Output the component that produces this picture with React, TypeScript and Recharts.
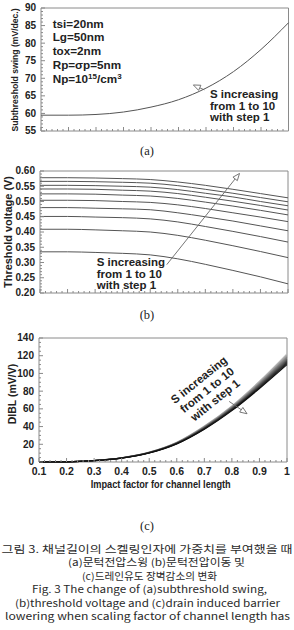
import React from 'react';
import { LineChart, Line, XAxis, YAxis, ReferenceArea, ReferenceLine } from 'recharts';

// ---- shared x grid (impact factor for channel length) ----
const impactFactor = [0.1, 0.2, 0.3, 0.4, 0.5, 0.6, 0.7, 0.8, 0.9, 1.0];
const factorTicks = [0.1, 0.2, 0.3, 0.4, 0.5, 0.6, 0.7, 0.8, 0.9, 1.0];

// ---- (a) subthreshold swing, mV/dec ----
const swingValues = [59.5, 59.5, 59.7, 60.4, 61.8, 63.9, 67.2, 71.9, 78.2, 85.8];
const swingTicks = [55, 60, 65, 70, 75, 80, 85, 90];

// ---- (b) threshold voltage, V (S = 1 ... 10) ----
const vthS1 = [0.335, 0.335, 0.333, 0.330, 0.325, 0.312, 0.294, 0.274, 0.253, 0.230];
const vthS2 = [0.409, 0.409, 0.407, 0.404, 0.400, 0.389, 0.373, 0.355, 0.336, 0.316];
const vthS3 = [0.451, 0.451, 0.449, 0.447, 0.443, 0.433, 0.418, 0.402, 0.385, 0.367];
const vthS4 = [0.480, 0.480, 0.478, 0.476, 0.473, 0.463, 0.450, 0.436, 0.420, 0.404];
const vthS5 = [0.504, 0.504, 0.503, 0.500, 0.497, 0.489, 0.477, 0.463, 0.449, 0.434];
const vthS6 = [0.525, 0.525, 0.524, 0.521, 0.518, 0.510, 0.498, 0.485, 0.471, 0.456];
const vthS7 = [0.541, 0.541, 0.540, 0.537, 0.534, 0.526, 0.514, 0.501, 0.487, 0.472];
const vthS8 = [0.553, 0.553, 0.552, 0.550, 0.547, 0.539, 0.527, 0.515, 0.500, 0.486];
const vthS9 = [0.566, 0.566, 0.565, 0.563, 0.560, 0.552, 0.540, 0.527, 0.513, 0.499];
const vthS10 = [0.578, 0.578, 0.577, 0.575, 0.572, 0.564, 0.553, 0.540, 0.526, 0.512];
const vthTicks = [0.2, 0.25, 0.3, 0.35, 0.4, 0.45, 0.5, 0.55, 0.6];

// ---- (c) DIBL, mV/V (S = 1 ... 10) ----
const diblS1 = [0, 0.2, 1.5, 4.4, 10.2, 20.5, 37.0, 58.0, 83.0, 110.0];
const diblS2 = [0, 0.2, 1.5, 4.4, 10.3, 20.7, 37.4, 58.6, 83.9, 111.3];
const diblS3 = [0, 0.2, 1.5, 4.5, 10.4, 20.9, 37.8, 59.2, 84.8, 112.6];
const diblS4 = [0, 0.2, 1.5, 4.5, 10.5, 21.1, 38.2, 59.8, 85.7, 114.0];
const diblS5 = [0, 0.2, 1.6, 4.6, 10.6, 21.3, 38.6, 60.4, 86.6, 115.3];
const diblS6 = [0, 0.2, 1.6, 4.6, 10.7, 21.5, 39.0, 61.0, 87.5, 116.6];
const diblS7 = [0, 0.2, 1.6, 4.7, 10.8, 21.7, 39.4, 61.6, 88.4, 118.0];
const diblS8 = [0, 0.2, 1.6, 4.7, 10.9, 21.9, 39.8, 62.2, 89.3, 119.3];
const diblS9 = [0, 0.2, 1.7, 4.8, 11.0, 22.1, 40.2, 62.8, 90.2, 120.6];
const diblS10 = [0, 0.2, 1.7, 4.8, 11.1, 22.3, 40.6, 63.4, 91.1, 122.0];
const diblTicks = [0, 20, 40, 60, 80, 100, 120, 140];

// arrow annotations, in data units: [tail, head]
const swingArrow = [{ x: 0.694, y: 66.7 }, { x: 0.654, y: 68.1 }];
const vthArrow = [{ x: 0.56, y: 0.293 }, { x: 0.824, y: 0.592 }];
const diblArrow = [{ x: 0.79, y: 68.4 }, { x: 0.855, y: 54.5 }];

const FONT = '"Liberation Sans", Arial, Helvetica, sans-serif';
const CAPTION_FONT = '"Noto Sans CJK KR", "Noto Sans", sans-serif';
const AXIS = '#8a8a8a';
const INK = '#222';
const CURVE = '#555';

const vthSeries = [vthS1, vthS2, vthS3, vthS4, vthS5, vthS6, vthS7, vthS8, vthS9, vthS10];
const diblSeries = [diblS1, diblS2, diblS3, diblS4, diblS5, diblS6, diblS7, diblS8, diblS9, diblS10];
const diblShades = ['#111', '#222', '#333', '#454545', '#575757', '#6a6a6a', '#7d7d7d', '#919191', '#a5a5a5', '#b9b9b9'];

const swingData = impactFactor.map((x, i) => ({ x, swing: swingValues[i] }));
const buildRows = (series: number[][]) =>
  impactFactor.map((x, i) => {
    const row: Record<string, number> = { x };
    series.forEach((s, k) => {
      row['s' + (k + 1)] = s[i];
    });
    return row;
  });
const vthData = buildRows(vthSeries);
const diblData = buildRows(diblSeries);

// major ticks plus evenly spaced minor ticks between them
function withMinor(majors: number[], sub: number): number[] {
  const out: number[] = [];
  for (let i = 0; i < majors.length - 1; i++) {
    const a = majors[i];
    const b = majors[i + 1];
    for (let k = 0; k < sub; k++) out.push(+(a + ((b - a) * k) / sub).toFixed(6));
  }
  out.push(majors[majors.length - 1]);
  return out;
}
const isMajor = (majors: number[], v: number) => majors.some((m) => Math.abs(m - v) < 1e-6);

const makeXTick = (majors: number[], fmt: ((v: number) => string) | null) => (props: any) => {
  const { x, y, payload } = props;
  const major = isMajor(majors, payload.value);
  return (
    <g>
      <line x1={x} x2={x} y1={y} y2={y - (major ? 4 : 2)} stroke={AXIS} strokeWidth={1} />
      {fmt && major ? (
        <text x={x} y={y + 13.2} textAnchor="middle" fontFamily={FONT} fontWeight="bold" fontSize={10.5} fill={INK}>
          {fmt(payload.value)}
        </text>
      ) : null}
    </g>
  );
};

const makeYTick = (majors: number[], fmt: (v: number) => string) => (props: any) => {
  const { x, y, payload } = props;
  const major = isMajor(majors, payload.value);
  return (
    <g>
      <line x1={x} x2={x + (major ? 4 : 2)} y1={y} y2={y} stroke={AXIS} strokeWidth={1} />
      {major ? (
        <text x={x - 5} y={y + 3.4} textAnchor="end" fontFamily={FONT} fontWeight="bold" fontSize={10} fill={INK}>
          {fmt(payload.value)}
        </text>
      ) : null}
    </g>
  );
};

// thin shaft with a hollow triangular head at the second point
const Arrow = (props: any) => {
  const { x1, y1, x2, y2 } = props;
  const dx = x2 - x1;
  const dy = y2 - y1;
  const len = Math.sqrt(dx * dx + dy * dy) || 1;
  const ux = dx / len;
  const uy = dy / len;
  const hl = 7;
  const hw = 2.8;
  const bx = x2 - ux * hl;
  const by = y2 - uy * hl;
  const pts = `${x2},${y2} ${bx - uy * hw},${by + ux * hw} ${bx + uy * hw},${by - ux * hw}`;
  return (
    <g>
      <line x1={x1} y1={y1} x2={bx} y2={by} stroke="#666" strokeWidth={0.9} />
      <polygon points={pts} fill="#fff" stroke="#666" strokeWidth={0.9} />
    </g>
  );
};

const xTicksAll = withMinor(factorTicks, 5);
const fmtFactor = (v: number) => (Math.abs(v - 1) < 1e-6 ? '1' : v.toFixed(1));

const textStyle = { fontFamily: FONT, fontWeight: 'bold' as const, fill: INK };

export default function App() {
  return (
    <div style={{ position: 'absolute', left: 0, top: 0, width: 294, height: 630, background: '#fff', overflow: 'hidden' }}>
      {/* (a) subthreshold swing */}
      <div style={{ position: 'absolute', left: 0, top: 0 }}>
        <LineChart width={294} height={140} data={swingData} margin={{ top: 8, right: 5.5, bottom: 0, left: 0 }}>
          <XAxis dataKey="x" type="number" domain={[0.1, 1]} ticks={xTicksAll} interval={0} height={9}
            axisLine={false} tickLine={false} tickSize={0} tickMargin={0} tick={makeXTick(factorTicks, null)} />
          <YAxis type="number" domain={[55, 90]} ticks={withMinor(swingTicks, 5)} interval={0} width={41}
            axisLine={false} tickLine={false} tickSize={0} tickMargin={0} tick={makeYTick(swingTicks, (v) => String(v))} />
          <ReferenceArea x1={0.1} x2={1} y1={55} y2={90} fill="none" stroke={AXIS} strokeWidth={1} ifOverflow="visible" />
          <Line type="monotone" dataKey="swing" stroke={CURVE} strokeWidth={1} dot={false} isAnimationActive={false} />
          <ReferenceLine segment={swingArrow} ifOverflow="visible" shape={(p: any) => <Arrow {...p} />} />
        </LineChart>
      </div>

      {/* (b) threshold voltage */}
      <div style={{ position: 'absolute', left: 0, top: 160 }}>
        <LineChart width={294} height={142} data={vthData} margin={{ top: 11, right: 6, bottom: 0, left: 0 }}>
          <XAxis dataKey="x" type="number" domain={[0.1, 1]} ticks={xTicksAll} interval={0} height={9}
            axisLine={false} tickLine={false} tickSize={0} tickMargin={0} tick={makeXTick(factorTicks, null)} />
          <YAxis type="number" domain={[0.2, 0.6]} ticks={withMinor(vthTicks, 5)} interval={0} width={40}
            axisLine={false} tickLine={false} tickSize={0} tickMargin={0} tick={makeYTick(vthTicks, (v) => v.toFixed(2))} />
          <ReferenceArea x1={0.1} x2={1} y1={0.2} y2={0.6} fill="none" stroke={AXIS} strokeWidth={1} ifOverflow="visible" />
          {vthSeries.map((_, k) => (
            <Line key={k} type="monotone" dataKey={'s' + (k + 1)} stroke={CURVE} strokeWidth={1} dot={false} isAnimationActive={false} />
          ))}
          <ReferenceLine segment={vthArrow} ifOverflow="visible" shape={(p: any) => <Arrow {...p} />} />
        </LineChart>
      </div>

      {/* (c) DIBL */}
      <div style={{ position: 'absolute', left: 0, top: 330 }}>
        <LineChart width={294} height={152} data={diblData} margin={{ top: 8, right: 7, bottom: 0, left: 0 }}>
          <XAxis dataKey="x" type="number" domain={[0.1, 1]} ticks={xTicksAll} interval={0} height={20}
            axisLine={false} tickLine={false} tickSize={0} tickMargin={0} tick={makeXTick(factorTicks, fmtFactor)} />
          <YAxis type="number" domain={[0, 140]} ticks={withMinor(diblTicks, 4)} interval={0} width={39}
            axisLine={false} tickLine={false} tickSize={0} tickMargin={0} tick={makeYTick(diblTicks, (v) => String(v))} />
          <ReferenceArea x1={0.1} x2={1} y1={0} y2={140} fill="none" stroke={AXIS} strokeWidth={1} ifOverflow="visible" />
          {diblSeries
            .map((_, k) => k)
            .reverse()
            .map((k) => (
              <Line key={k} type="monotone" dataKey={'s' + (k + 1)} stroke={diblShades[k]} strokeWidth={1.2} dot={false} isAnimationActive={false} />
            ))}
          <ReferenceLine segment={diblArrow} ifOverflow="visible" shape={(p: any) => <Arrow {...p} />} />
        </LineChart>
      </div>

      {/* titles, notes and caption */}
      <svg width={294} height={630} style={{ position: 'absolute', left: 0, top: 0, pointerEvents: 'none' }}>
        {/* axis titles */}
        <text transform="translate(17.5,70) rotate(-90)" textAnchor="middle" fontSize={8.6} {...textStyle}>
          Subthreshold swing (mV/dec.)
        </text>
        <text transform="translate(12,232) rotate(-90)" textAnchor="middle" fontSize={10.5} textLength={112} lengthAdjust="spacingAndGlyphs" {...textStyle}>
          Threshold voltage (V)
        </text>
        <text transform="translate(16,394) rotate(-90)" textAnchor="middle" fontSize={10.5} {...textStyle}>
          DIBL  (mV/V)
        </text>
        <text x={160.7} y={488} textAnchor="middle" fontSize={10} textLength={140} lengthAdjust="spacingAndGlyphs" {...textStyle}>
          Impact factor for channel length
        </text>

        {/* device parameters */}
        <g fontSize={11.7} {...textStyle}>
          <text x={52.7} y={27.5}>tsi=20nm</text>
          <text x={52.7} y={40.5}>Lg=50nm</text>
          <text x={52.7} y={54.5}>tox=2nm</text>
          <text x={52.7} y={68.5}>Rp=σp=5nm</text>
          <text x={52.7} y={83}>
            Np=10<tspan dy={-4.5} fontSize={8}>15</tspan>
            <tspan dy={4.5}>/cm</tspan>
            <tspan dy={-4.5} fontSize={8}>3</tspan>
          </text>
        </g>

        {/* S sweep notes */}
        <g fontSize={11.5} {...textStyle}>
          <text x={210} y={97.5}>S increasing</text>
          <text x={210} y={109.5}>from 1 to 10</text>
          <text x={210} y={121}>with step 1</text>
        </g>
        <g fontSize={11.5} {...textStyle}>
          <text x={96.7} y={266}>S increasing</text>
          <text x={96.7} y={277.5}>from 1 to 10</text>
          <text x={96.7} y={289}>with step 1</text>
        </g>
        <g fontSize={11.5} textAnchor="middle" transform="translate(207,390) rotate(-38.7)" {...textStyle}>
          <text x={0} y={-9}>S increasing</text>
          <text x={0} y={4}>from 1 to 10</text>
          <text x={0} y={17}>with step 1</text>
        </g>

        {/* panel letters */}
        <g fontFamily='"Liberation Serif", "DejaVu Serif", serif' fontSize={12.5} fill={INK} textAnchor="middle">
          <text x={147} y={154.5}>(a)</text>
          <text x={147} y={318.5}>(b)</text>
          <text x={147} y={530}>(c)</text>
        </g>

        {/* figure caption */}
        <g fontFamily={CAPTION_FONT} fontSize={10} fill="#2a2a2a" textAnchor="middle">
          <text x={147} y={552.5} textLength={291} lengthAdjust="spacingAndGlyphs">그림 3. 채널길이의 스켈링인자에 가중치를 부여했을 때</text>
          <text x={156.5} y={566} textLength={177} lengthAdjust="spacingAndGlyphs">(a)문턱전압스윙 (b)문턱전압이동 및</text>
          <text x={149.5} y={579.5} textLength={135} lengthAdjust="spacingAndGlyphs">(c)드레인유도 장벽감소의 변화</text>
          <text x={149.5} y={593} textLength={235} lengthAdjust="spacingAndGlyphs">Fig. 3 The change of (a)subthreshold swing,</text>
          <text x={147.5} y={606.5} textLength={265} lengthAdjust="spacingAndGlyphs">(b)threshold voltage and (c)drain induced barrier</text>
          <text x={147.5} y={620} textLength={285} lengthAdjust="spacingAndGlyphs">lowering when scaling factor of channel length has</text>
        </g>
      </svg>
    </div>
  );
}
